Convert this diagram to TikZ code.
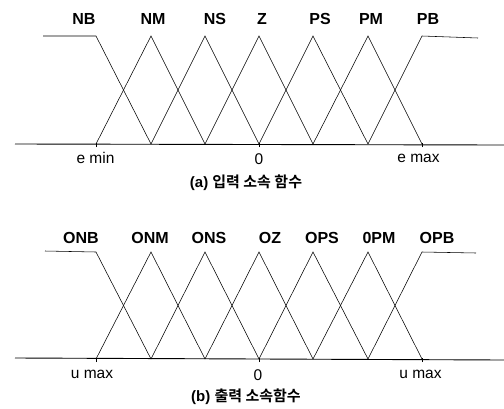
\documentclass[tikz,border=0pt]{standalone}
\usepackage{fontspec}
\setmainfont{Liberation Sans}
\newfontfamily\krfont{Noto Sans CJK KR}[BoldFont={Noto Sans CJK KR Bold}]
\begin{document}
\begin{tikzpicture}[x=1pt,y=-1pt,
  mf/.style={line width=0.55pt},
  axisline/.style={line width=0.9pt},
  setlabel/.style={font=\fontsize{16}{16}\selectfont\bfseries, inner sep=0pt},
  ticklabel/.style={font=\fontsize{15.5}{15.5}\selectfont, inner sep=0pt},
  caption/.style={font=\fontsize{15}{15}\selectfont\bfseries, inner sep=0pt}]
\useasboundingbox (0,0) rectangle (504,408);

% ---------- (a) input membership functions ----------
\foreach \i/\x in {0/96,1/151,2/205,3/259,4/313,5/368,6/422}
  {\coordinate (a\i) at (\x,144); \coordinate (ta\i) at (\x,36);}
\coordinate (aL) at (43,36);
\coordinate (aR) at (478,38);
\draw[axisline] (15,144) -- (504,145);
\draw[mf] (aL) -- (ta0) -- (a1);
\draw[mf] (a0) -- (ta1) -- (a2);
\draw[mf] (a1) -- (ta2) -- (a3);
\draw[mf] (a2) -- (ta3) -- (a4);
\draw[mf] (a3) -- (ta4) -- (a5);
\draw[mf] (a4) -- (ta5) -- (a6);
\draw[mf] (a5) -- (ta6) -- (aR);
\foreach \i in {0,3,6} \draw[mf] ([yshift=-3]a\i) -- ([yshift=1]a\i);

\node[setlabel] (nb) at (84,19) {NB};
\node[setlabel] (nm) at (153,19) {NM};
\node[setlabel] (ns) at (215,19) {NS};
\node[setlabel] (z)  at (262,19) {Z};
\node[setlabel] (ps) at (320,19) {PS};
\node[setlabel] (pm) at (371,19) {PM};
\node[setlabel] (pb) at (428,19) {PB};

\node[ticklabel] (emin) at (95.5,158) {e min};
\node[ticklabel] (ezero) at (259,159) {0};
\node[ticklabel] (emax) at (418.5,158) {e max};
\node[caption] (capa) at (246,183) {(a) {\krfont\bfseries 입력 소속 함수}};

% ---------- (b) output membership functions ----------
\foreach \i/\x in {0/96,1/151,2/205,3/259,4/313,5/368,6/422}
  {\coordinate (b\i) at (\x,359); \coordinate (tb\i) at (\x,252);}
\coordinate (bL) at (45,251);
\coordinate (bR) at (476,253);
\draw[axisline] (15,358) -- (504,360);
\draw[mf] (bL) -- (tb0) -- (b1);
\draw[mf] (b0) -- (tb1) -- (b2);
\draw[mf] (b1) -- (tb2) -- (b3);
\draw[mf] (b2) -- (tb3) -- (b4);
\draw[mf] (b3) -- (tb4) -- (b5);
\draw[mf] (b4) -- (tb5) -- (b6);
\draw[mf] (b5) -- (tb6) -- (bR);
\foreach \i in {0,3,6} \draw[mf] ([yshift=-3]b\i) -- ([yshift=1]b\i);

\node[setlabel] (onb) at (81,238) {ONB};
\node[setlabel] (onm) at (150,238) {ONM};
\node[setlabel] (ons) at (209,238) {ONS};
\node[setlabel] (oz)  at (270,238) {OZ};
\node[setlabel] (ops) at (322,238) {OPS};
\node[setlabel] (opm) at (379,238) {0PM};
\node[setlabel] (opb) at (437,238) {OPB};

\node[ticklabel] (umin) at (92,374) {u max};
\node[ticklabel] (uzero) at (258,375) {0};
\node[ticklabel] (umax) at (420.5,374) {u max};
\node[caption] (capb) at (246,397) {(b) {\krfont\bfseries 출력 소속함수}};
\end{tikzpicture}
\end{document}
